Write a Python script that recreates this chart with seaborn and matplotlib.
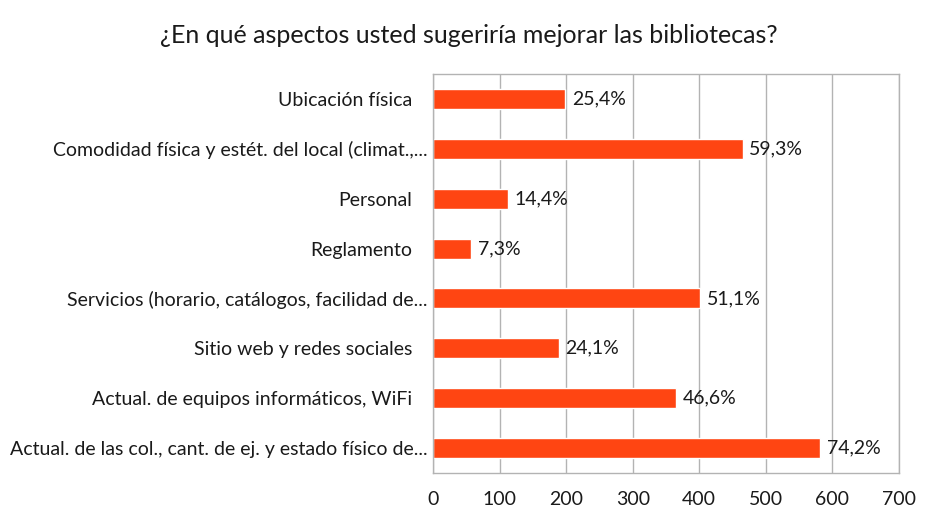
import matplotlib
matplotlib.use('Agg')
import matplotlib.pyplot as plt
import matplotlib.transforms as mtransforms
import seaborn as sns
import pandas as pd

categorias = [
    'Ubicación física',
    'Comodidad física y estét. del local (climat.,...',
    'Personal',
    'Reglamento',
    'Servicios (horario, catálogos, facilidad de...',
    'Sitio web y redes sociales',
    'Actual. de equipos informáticos, WiFi',
    'Actual. de las col., cant. de ej. y estado físico de...',
]
valores = [199, 465, 113, 57, 401, 189, 365, 582]
porcentajes = ['25,4%', '59,3%', '14,4%', '7,3%', '51,1%', '24,1%', '46,6%', '74,2%']
ticks_x = [0, 100, 200, 300, 400, 500, 600, 700]

df = pd.DataFrame({'cat': categorias, 'val': valores})

sns.set_style('white')
plt.rcParams['font.family'] = ['Lato', 'DejaVu Sans']

fig = plt.figure(figsize=(9.38, 5.25), dpi=100)
ax = fig.add_axes([0.4616, 0.099, 0.4968, 0.760])

sns.barplot(data=df, x='val', y='cat', color='#FF4512', saturation=1,
            width=0.4, ax=ax, orient='h')

for i, (v, p) in enumerate(zip(valores, porcentajes)):
    ax.text(v + 10, i, p, va='center', ha='left', fontsize=14, color='#1a1a1a')

ax.set_xlim(0, 700)
ax.set_xticks(ticks_x)
ax.set_ylim(7.5, -0.5)
ax.set_xlabel('')
ax.set_ylabel('')
ax.xaxis.grid(True, color='#b3b3b3', linewidth=1)
ax.set_axisbelow(True)
for s in ax.spines.values():
    s.set_color('#b3b3b3')
    s.set_linewidth(1)
ax.tick_params(axis='both', length=0, labelsize=14, colors='#1a1a1a')
ax.tick_params(axis='x', pad=13)
ax.tick_params(axis='y', pad=4)

# etiquetas completas quedan más separadas del eje que las truncadas
shift = mtransforms.ScaledTranslation(-15 / 100, 0, fig.dpi_scale_trans)
for lbl in ax.get_yticklabels():
    if not lbl.get_text().endswith('...'):
        lbl.set_transform(lbl.get_transform() + shift)

fig.suptitle('¿En qué aspectos usted sugeriría mejorar las bibliotecas?',
             fontsize=18, y=0.955, color='#1a1a1a')

fig.savefig('out.png', dpi=100)
